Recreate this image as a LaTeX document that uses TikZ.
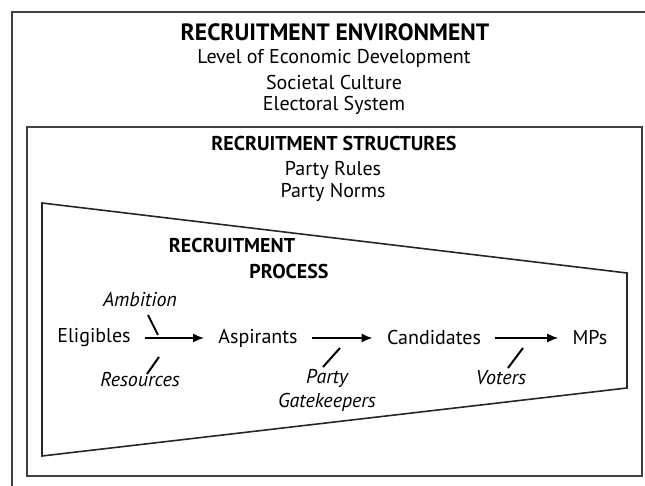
\documentclass[tikz,border=0pt]{standalone}
\usepackage{fontspec}
\setmainfont{PT Sans}
\usetikzlibrary{arrows.meta}

\newcommand{\txtsize}{\fontsize{10}{12}\selectfont}
\newcommand{\bigsize}{\fontsize{11.8}{14}\selectfont}

\tikzset{
  frame/.style={draw=black!75, line width=1pt},
  funnel/.style={draw=black!85, line width=0.8pt},
  title/.style={font=\bigsize\bfseries, inner sep=0pt},
  head/.style={font=\txtsize\bfseries, inner sep=0pt},
  item/.style={font=\txtsize, inner sep=0pt},
  force/.style={font=\txtsize\itshape, inner sep=0pt},
  flow/.style={-{Latex[length=5.5pt,width=4.5pt]}, line width=0.8pt, shorten <=7pt, shorten >=7pt},
  slash/.style={line width=1pt}
}

\begin{document}
\begin{tikzpicture}[x=0.5pt,y=-0.5pt]
  \useasboundingbox (0,0) rectangle (645,486);
  \clip (0,0) rectangle (645,486);

  % frames
  \draw[frame] (12,12) rectangle (660,500);
  \draw[frame] (27,127) rectangle (642,476);
  \draw[funnel] (42,203) -- (627,273) -- (627,388) -- (42,456) -- cycle;

  % environment
  \node[title] (env) at (335,32) {RECRUITMENT ENVIRONMENT};
  \node[item] (econ) at (334,58) {Level of Economic Development};
  \node[item] (cult) at (334,83) {Societal Culture};
  \node[item] (elec) at (334,105) {Electoral System};

  % structures
  \node[head] (struct) at (334,144) {RECRUITMENT STRUCTURES};
  \node[item] (rules) at (333,170) {Party Rules};
  \node[item] (norms) at (333,192) {Party Norms};

  % process
  \node[head] (proc1) at (232,246) {RECRUITMENT};
  \node[head] (proc2) at (289,272) {PROCESS};

  \node[item] (elig) at (94,338) {Eligibles};
  \node[item] (asp) at (258,338) {Aspirants};
  \node[item] (cand) at (434,338) {Candidates};
  \node[item] (mps) at (590,338) {MPs};

  \draw[flow] (elig) -- (asp);
  \draw[flow] (asp) -- (cand);
  \draw[flow] (cand) -- (mps);

  \node[force] (amb) at (140,300) {Ambition};
  \node[force] (res) at (140,380) {Resources};
  \node[force] (party) at (327,378) {Party};
  \node[force] (gate) at (327,402) {Gatekeepers};
  \node[force] (vot) at (501,378) {Voters};

  \draw[slash] (amb) ++(8,15) -- ++(10,20);
  \draw[slash] (res) ++(7,-6) -- ++(12,-17);
  \draw[slash] (party) ++(-4,-11) -- ++(17,-19);
  \draw[slash] (vot) ++(7,-10) -- ++(15,-20);
\end{tikzpicture}
\end{document}
